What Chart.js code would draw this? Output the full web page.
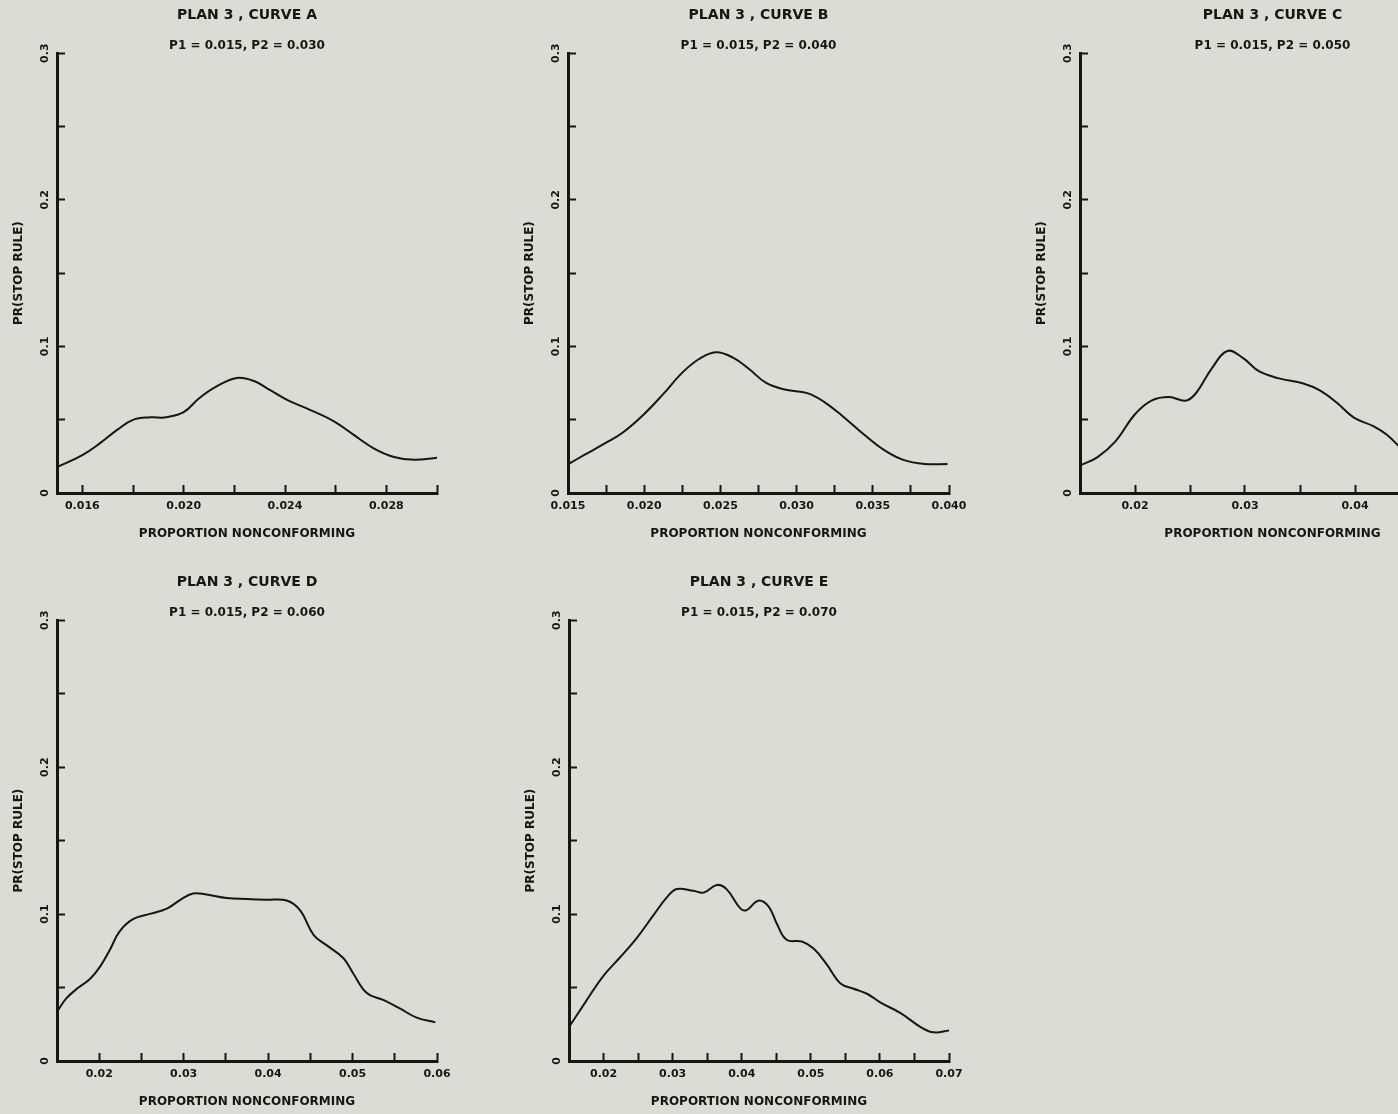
<!DOCTYPE html>
<html>
<head>
<meta charset="utf-8">
<script src="https://cdn.jsdelivr.net/npm/chart.js@4/dist/chart.umd.min.js"></script>
<style>
html, body { margin: 0; padding: 0; background: #dcdbd4; overflow: hidden; }
#page { position: relative; width: 1398px; height: 1114px; overflow: hidden; background: #dcdbd4; }
#page canvas { position: absolute; }
</style>
</head>
<body>
<div id="page"></div>
<script>
// ---------------- data ----------------
const yTickValues = [0, 0.05, 0.1, 0.15, 0.2, 0.25, 0.3];
const yTickLabels = ['0', '', '0.1', '', '0.2', '', '0.3'];

const titles = ['PLAN 3 , CURVE A', 'PLAN 3 , CURVE B', 'PLAN 3 , CURVE C', 'PLAN 3 , CURVE D', 'PLAN 3 , CURVE E'];
const subtitles = ['P1 = 0.015, P2 = 0.030', 'P1 = 0.015, P2 = 0.040', 'P1 = 0.015, P2 = 0.050', 'P1 = 0.015, P2 = 0.060', 'P1 = 0.015, P2 = 0.070'];
const xAxisTitle = 'PROPORTION NONCONFORMING';
const yAxisTitle = 'PR(STOP RULE)';

// Curve A
const xA = [0.0150, 0.0160, 0.0167, 0.0174, 0.0180, 0.0187, 0.0193, 0.0200, 0.0206, 0.0213, 0.0221, 0.0228, 0.0234, 0.0241, 0.0249, 0.0259, 0.0267, 0.0275, 0.0283, 0.0291, 0.0300];
const yA = [0.0176, 0.0258, 0.0340, 0.0434, 0.0499, 0.0516, 0.0516, 0.0551, 0.0645, 0.0727, 0.0785, 0.0762, 0.0703, 0.0633, 0.0574, 0.0492, 0.0398, 0.0305, 0.0246, 0.0227, 0.0241];
const xTicksA = [0.016, 0.018, 0.020, 0.022, 0.024, 0.026, 0.028, 0.030];
const xLabelsA = ['0.016', '', '0.020', '', '0.024', '', '0.028', ''];

// Curve B
const xB = [0.0150, 0.0161, 0.0175, 0.0186, 0.0199, 0.0212, 0.0225, 0.0236, 0.0247, 0.0258, 0.0269, 0.0280, 0.0293, 0.0307, 0.0318, 0.0331, 0.0344, 0.0357, 0.0370, 0.0384, 0.0399];
const yB = [0.0196, 0.0261, 0.0343, 0.0413, 0.0529, 0.0669, 0.0821, 0.0914, 0.0960, 0.0925, 0.0844, 0.0751, 0.0704, 0.0681, 0.0622, 0.0517, 0.0401, 0.0296, 0.0226, 0.0198, 0.0198];
const xTicksB = [0.015, 0.0175, 0.020, 0.0225, 0.025, 0.0275, 0.030, 0.0325, 0.035, 0.0375, 0.040];
const xLabelsB = ['0.015', '', '0.020', '', '0.025', '', '0.030', '', '0.035', '', '0.040'];

// Curve C
const xC = [0.0150, 0.0166, 0.0182, 0.0200, 0.0215, 0.0231, 0.0246, 0.0255, 0.0270, 0.0284, 0.0298, 0.0313, 0.0331, 0.0353, 0.0368, 0.0383, 0.0399, 0.0417, 0.0429, 0.0443];
const yC = [0.0187, 0.0245, 0.0350, 0.0537, 0.0630, 0.0654, 0.0630, 0.0677, 0.0852, 0.0969, 0.0922, 0.0829, 0.0782, 0.0747, 0.0700, 0.0619, 0.0514, 0.0455, 0.0397, 0.0295];
const xTicksC = [0.020, 0.025, 0.030, 0.035, 0.040, 0.045, 0.050];
const xLabelsC = ['0.02', '', '0.03', '', '0.04', '', '0.05'];

// Curve D
const xD = [0.0150, 0.0161, 0.0175, 0.0189, 0.0201, 0.0213, 0.0224, 0.0240, 0.0260, 0.0280, 0.0296, 0.0311, 0.0327, 0.0351, 0.0375, 0.0398, 0.0422, 0.0438, 0.0454, 0.0470, 0.0489, 0.0501, 0.0517, 0.0537, 0.0557, 0.0576, 0.0598];
const yD = [0.0335, 0.0426, 0.0498, 0.0558, 0.0642, 0.0761, 0.0881, 0.0965, 0.1001, 0.1037, 0.1097, 0.1140, 0.1133, 0.1109, 0.1102, 0.1097, 0.1092, 0.1025, 0.0857, 0.0785, 0.0701, 0.0594, 0.0462, 0.0414, 0.0354, 0.0295, 0.0263];
const xTicksD = [0.020, 0.025, 0.030, 0.035, 0.040, 0.045, 0.050, 0.055, 0.060];
const xLabelsD = ['0.02', '', '0.03', '', '0.04', '', '0.05', '', '0.06'];

// Curve E
const xE = [0.0150, 0.0175, 0.0199, 0.0224, 0.0248, 0.0272, 0.0291, 0.0306, 0.0330, 0.0345, 0.0364, 0.0378, 0.0398, 0.0407, 0.0424, 0.0439, 0.0451, 0.0465, 0.0487, 0.0504, 0.0523, 0.0543, 0.0562, 0.0582, 0.0601, 0.0630, 0.0659, 0.0678, 0.0700];
const yE = [0.0231, 0.0409, 0.0575, 0.0706, 0.0837, 0.0991, 0.1110, 0.1170, 0.1158, 0.1146, 0.1198, 0.1170, 0.1039, 0.1027, 0.1091, 0.1051, 0.0932, 0.0825, 0.0813, 0.0765, 0.0658, 0.0528, 0.0492, 0.0456, 0.0397, 0.0326, 0.0231, 0.0195, 0.0207];
const xTicksE = [0.020, 0.025, 0.030, 0.035, 0.040, 0.045, 0.050, 0.055, 0.060, 0.065, 0.070];
const xLabelsE = ['0.02', '', '0.03', '', '0.04', '', '0.05', '', '0.06', '', '0.07'];

const xMins = [0.015, 0.015, 0.015, 0.015, 0.015];
const xMaxs = [0.030, 0.040, 0.050, 0.060, 0.070];

// ---------------- layout / style ----------------
const INK = '#161616';
const FAM = "'DejaVu Sans', 'Liberation Sans', sans-serif";
const Y_AXIS_W = 57, RIGHT_PAD = 40, X_AXIS_H = 50;

const panels = [
  { left: 0,    top: 0,   plotW: 380, H: 543, xs: xA, ys: yA, ticks: xTicksA, labels: xLabelsA },
  { left: 511,  top: 0,   plotW: 381, H: 543, xs: xB, ys: yB, ticks: xTicksB, labels: xLabelsB },
  { left: 1023, top: 0,   plotW: 385, H: 543, xs: xC, ys: yC, ticks: xTicksC, labels: xLabelsC },
  { left: 0,    top: 567, plotW: 380, H: 544, xs: xD, ys: yD, ticks: xTicksD, labels: xLabelsD },
  { left: 512,  top: 567, plotW: 380, H: 544, xs: xE, ys: yE, ticks: xTicksE, labels: xLabelsE }
];

const page = document.getElementById('page');

panels.forEach((p, k) => {
  const cv = document.createElement('canvas');
  const W = Y_AXIS_W + p.plotW + RIGHT_PAD;
  cv.width = W; cv.height = p.H;
  cv.style.left = p.left + 'px';
  cv.style.top = p.top + 'px';
  cv.style.width = W + 'px';
  cv.style.height = p.H + 'px';
  page.appendChild(cv);

  const gridOpts = { display: true, drawOnChartArea: false, drawTicks: true, tickLength: -8, tickWidth: 2, tickColor: INK };
  const borderOpts = { display: true, width: 3, color: INK };

  new Chart(cv, {
    type: 'line',
    data: {
      datasets: [{
        data: p.xs.map((x, i) => ({ x: x, y: p.ys[i] })),
        borderColor: INK,
        borderWidth: 2,
        pointRadius: 0,
        pointHoverRadius: 0,
        tension: 0.4,
        fill: false
      }]
    },
    options: {
      responsive: false,
      animation: false,
      devicePixelRatio: 1,
      events: [],
      layout: { padding: { left: 0, top: 0, right: RIGHT_PAD, bottom: 0 } },
      plugins: {
        legend: { display: false },
        tooltip: { enabled: false },
        title: {
          display: true, text: titles[k], fullSize: false, color: INK,
          font: { family: FAM, size: 14, weight: 'bold', lineHeight: 1.2 },
          padding: { top: 7, bottom: 0 }
        },
        subtitle: {
          display: true, text: subtitles[k], fullSize: false, color: INK,
          font: { family: FAM, size: 12, weight: 'bold', lineHeight: 1.2 },
          padding: { top: 15, bottom: 0 }
        }
      },
      scales: {
        x: {
          type: 'linear', position: 'bottom',
          min: xMins[k], max: xMaxs[k],
          afterBuildTicks: (s) => { s.ticks = p.ticks.map(v => ({ value: v })); },
          afterFit: (s) => { s.height = X_AXIS_H; },
          ticks: {
            callback: (v, i) => p.labels[i],
            autoSkip: false, maxRotation: 0, minRotation: 0,
            padding: 15, color: INK,
            font: { family: FAM, size: 11, weight: 'bold', lineHeight: 1.2 }
          },
          grid: gridOpts,
          border: borderOpts,
          title: {
            display: true, text: xAxisTitle, color: INK,
            font: { family: FAM, size: 12, weight: 'bold', lineHeight: 1.2 },
            padding: { top: 0, bottom: 2 }
          }
        },
        y: {
          type: 'linear', position: 'left',
          min: 0, max: 0.3,
          afterBuildTicks: (s) => { s.ticks = yTickValues.map(v => ({ value: v })); },
          afterFit: (s) => { s.width = Y_AXIS_W; },
          ticks: {
            callback: (v, i) => yTickLabels[i],
            autoSkip: false, minRotation: 90, maxRotation: 90,
            crossAlign: 'center', padding: 10, color: INK,
            font: { family: FAM, size: 11, weight: 'bold', lineHeight: 1.2 }
          },
          grid: gridOpts,
          border: borderOpts,
          title: {
            display: true, text: yAxisTitle, color: INK,
            font: { family: FAM, size: 12, weight: 'bold', lineHeight: 1.2 },
            padding: { top: 12, bottom: 0 }
          }
        }
      }
    }
  });
});
</script>
</body>
</html>
